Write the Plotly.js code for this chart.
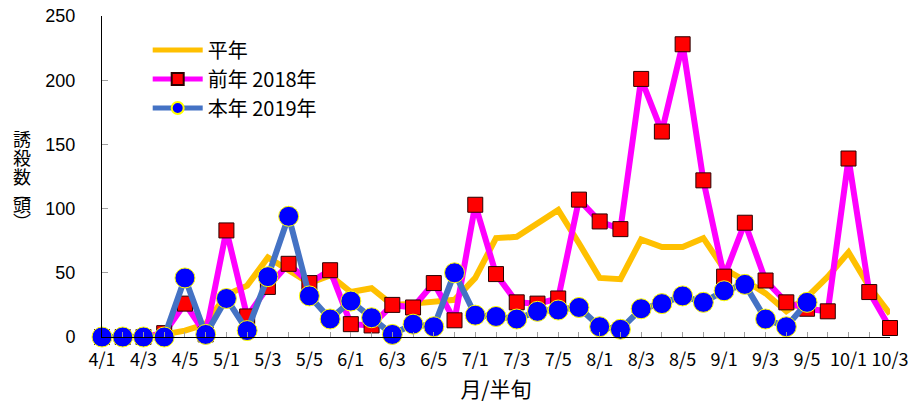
<!DOCTYPE html>
<html>
<head>
<meta charset="utf-8">
<script src="https://cdn.plot.ly/plotly-3.0.1.min.js"></script>
<style>html,body{margin:0;padding:0;background:#fff;}#chart{width:915px;height:407px;}</style>
</head>
<body>
<div id="chart"></div>
<script>
const categories = ['4/1','4/2','4/3','4/4','4/5','4/6','5/1','5/2','5/3','5/4','5/5','5/6',
  '6/1','6/2','6/3','6/4','6/5','6/6','7/1','7/2','7/3','7/4','7/5','7/6',
  '8/1','8/2','8/3','8/4','8/5','8/6','9/1','9/2','9/3','9/4','9/5','9/6',
  '10/1','10/2','10/3'];
const tickLabels = ['4/1','','4/3','','4/5','','5/1','','5/3','','5/5','',
  '6/1','','6/3','','6/5','','7/1','','7/3','','7/5','',
  '8/1','','8/3','','8/5','','9/1','','9/3','','9/5','',
  '10/1','','10/3'];
const normalYear = [0,0,0,2,5,10,33,40,62,52,42,48,35,38,25,26,27,29,46,77,78,89,99,73,46,45,76,70,70,77,53,44,34,20,31,47,66,39,18];
const year2018 = [0,0,0,3,26,2,83,16,39,57,42,52,10,9,25,23,42,13,103,49,27,26,30,107,90,84,201,160,228,122,47,89,44,27,22,20,139,35,7];
const year2019 = [0,0,0,0,46,2,30,5,47,94,32,14,28,15,2,10,8,50,17,16,14,20,21,23,8,6,22,26,32,27,36,41,14,8,27,null,null,null,null];
const names = ['平年','前年 2018年','本年 2019年'];

const traces = [
  {x: categories, y: normalYear, name: names[0], type: 'scatter', mode: 'lines',
   line: {color: '#FFC000', width: 6}, cliponaxis: false, legendgroup: 'a'},
  {x: categories, y: year2018, name: names[1], type: 'scatter', mode: 'lines+markers',
   line: {color: '#FF00FF', width: 6},
   marker: {symbol: 'square', size: 15, color: '#FF0000', line: {color: '#2a0000', width: 1}},
   cliponaxis: false, legendgroup: 'b'},
  {x: categories, y: year2019, name: names[2], type: 'scatter', mode: 'lines+markers',
   line: {color: '#4472C4', width: 6},
   marker: {symbol: 'circle', size: 20, color: '#0000FF', line: {color: '#FFFF00', width: 1}},
   cliponaxis: false, legendgroup: 'c', connectgaps: false}
];

const plotTop = 16, plotBottom = 337, plotH = plotBottom - plotTop;
function py(p) { return (plotBottom - p) / plotH; }
const yTitle = [['誘',138],['殺',157],['数',176],['︵',192],['頭',204],['︶',221]];
const annotations = yTitle.map(([t, p]) => ({
  text: t, xref: 'paper', yref: 'paper', x: -0.102, y: py(p),
  xanchor: 'center', yanchor: 'middle', showarrow: false,
  font: {family: 'Noto Sans CJK JP', size: 18, color: '#000'}
}));

const layout = {
  width: 915, height: 407,
  margin: {l: 102, r: 25, t: plotTop, b: 407 - plotBottom},
  paper_bgcolor: '#fff', plot_bgcolor: '#fff',
  showlegend: true,
  legend: {x: 0.058, y: 0.955, xanchor: 'left', yanchor: 'top',
    font: {family: 'Noto Sans CJK JP', size: 20, color: '#000'},
    bgcolor: 'rgba(0,0,0,0)', itemwidth: 50, tracegroupgap: 0, itemsizing: 'constant'},
  xaxis: {
    type: 'category', range: [0, 38],
    tickmode: 'array', tickvals: categories, ticktext: tickLabels,
    ticks: 'inside', ticklen: 5, tickcolor: '#a0a0a0', tickwidth: 1,
    showline: true, linecolor: '#000', linewidth: 1,
    showgrid: false, zeroline: false,
    tickangle: 0, ticklabelstandoff: 6,
    tickfont: {family: 'Noto Sans CJK JP', size: 18, color: '#000'},
    title: {text: '月/半旬', font: {family: 'Noto Sans CJK JP', size: 21, color: '#000'}, standoff: 12}
  },
  yaxis: {
    range: [0, 250], dtick: 50, tick0: 0,
    ticks: 'inside', ticklen: 6, tickcolor: '#a0a0a0', tickwidth: 1,
    showline: true, linecolor: '#000', linewidth: 1,
    showgrid: false, zeroline: false, ticklabelstandoff: 22,
    tickfont: {family: 'Liberation Sans, Arial, sans-serif', size: 18, color: '#000'}
  },
  annotations: annotations
};

Plotly.newPlot('chart', traces, layout, {displayModeBar: false, staticPlot: true});
</script>
</body>
</html>
